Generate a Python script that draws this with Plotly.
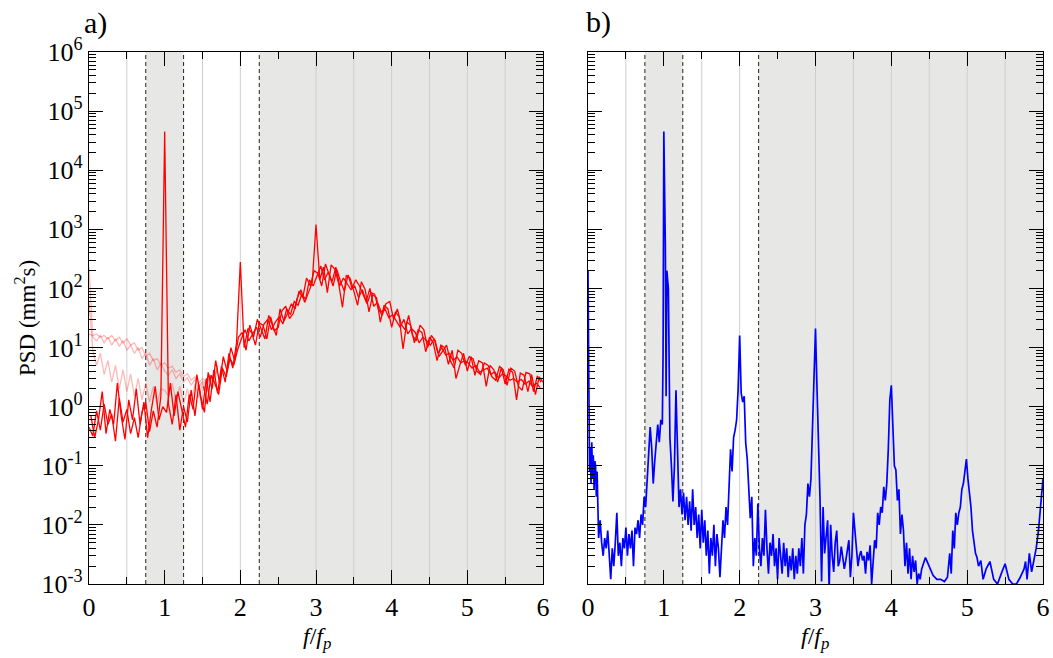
import plotly.graph_objects as go

# ---------------- data ----------------
f_red_a = [0.00, 0.05, 0.10, 0.15, 0.20, 0.25, 0.30, 0.35, 0.40, 0.45,
           0.50, 0.55, 0.60, 0.65, 0.70, 0.75, 0.80, 0.85, 0.90, 0.95,
           1.00, 1.05, 1.10, 1.15, 1.20, 1.25, 1.30, 1.35, 1.40, 1.45,
           1.50, 1.55, 1.60, 1.65, 1.70, 1.75, 1.80, 1.85, 1.90, 1.95,
           2.00, 2.05, 2.10, 2.15, 2.20, 2.25, 2.30, 2.35, 2.40, 2.45,
           2.50, 2.55, 2.60, 2.65, 2.70, 2.75, 2.80, 2.85, 2.90, 2.95,
           3.00, 3.05, 3.10, 3.15, 3.20, 3.25, 3.30, 3.35, 3.40, 3.45,
           3.50, 3.55, 3.60, 3.65, 3.70, 3.75, 3.80, 3.85, 3.90, 3.95,
           4.00, 4.05, 4.10, 4.15, 4.20, 4.25, 4.30, 4.35, 4.40, 4.45,
           4.50, 4.55, 4.60, 4.65, 4.70, 4.75, 4.80, 4.85, 4.90, 4.95,
           5.00, 5.05, 5.10, 5.15, 5.20, 5.25, 5.30, 5.35, 5.40, 5.45,
           5.50, 5.55, 5.60, 5.65, 5.70, 5.75, 5.80, 5.85, 5.90, 5.95,
           6.00]
psd_red_a = [0.45, 0.32, 0.85, 0.4, 1.1, 0.5, 0.75, 0.26, 1.4, 0.55,
             0.9, 0.35, 0.65, 0.3, 0.8, 1.2, 0.38, 0.85, 0.45, 1.5,
             45000, 1.1, 0.5, 1.6, 0.4, 1.0, 0.55, 1.9, 0.7, 2.4,
             0.9, 3.0, 1.2, 4.2, 1.7, 4.8, 2.6, 8.0, 4.5, 12,
             280, 10, 21, 18, 11, 26, 24, 14, 33, 19,
             22, 42, 50, 31, 38, 68, 95, 58, 85, 125,
             1200, 140, 230, 85, 250, 210, 120, 48, 165, 150,
             90, 52, 130, 95, 40, 78, 70, 27, 52, 45,
             22, 40, 33, 9.5, 27, 24, 12, 20, 18, 8.5,
             15, 12, 6, 11, 10, 5.2, 9, 3.0, 5, 8,
             4, 7, 3.4, 6, 5.5, 2.2, 5, 4.2, 2.6, 4.6,
             2.4, 4.3, 3.8, 1.3, 3.7, 3.4, 1.8, 3.5, 1.6, 3.2,
             2.6]

f_red_b = [0.025, 0.075, 0.125, 0.175, 0.225, 0.275, 0.325, 0.375, 0.425, 0.475,
           0.525, 0.575, 0.625, 0.675, 0.725, 0.775, 0.825, 0.875, 0.925, 0.975,
           1.025, 1.075, 1.125, 1.175, 1.225, 1.275, 1.325, 1.375, 1.425, 1.475,
           1.525, 1.575, 1.625, 1.675, 1.725, 1.775, 1.825, 1.875, 1.925, 1.975,
           2.025, 2.075, 2.125, 2.175, 2.225, 2.275, 2.325, 2.375, 2.425, 2.475,
           2.525, 2.575, 2.625, 2.675, 2.725, 2.775, 2.825, 2.875, 2.925, 2.975,
           3.025, 3.075, 3.125, 3.175, 3.225, 3.275, 3.325, 3.375, 3.425, 3.475,
           3.525, 3.575, 3.625, 3.675, 3.725, 3.775, 3.825, 3.875, 3.925, 3.975,
           4.025, 4.075, 4.125, 4.175, 4.225, 4.275, 4.325, 4.375, 4.425, 4.475,
           4.525, 4.575, 4.625, 4.675, 4.725, 4.775, 4.825, 4.875, 4.925, 4.975,
           5.025, 5.075, 5.125, 5.175, 5.225, 5.275, 5.325, 5.375, 5.425, 5.475,
           5.525, 5.575, 5.625, 5.675, 5.725, 5.775, 5.825, 5.875, 5.925, 5.975]
psd_red_b = [0.7, 0.3, 0.6, 1.8, 0.35, 0.9, 0.5, 2.5, 0.7, 0.28,
             1.3, 0.6, 2.0, 0.5, 1.2, 0.3, 0.9, 2.2, 0.6, 1.0,
             0.8, 2.5, 0.7, 1.8, 0.9, 0.45, 1.6, 0.9, 3.5, 1.5,
             0.8, 3.8, 2.0, 6, 2.5, 7, 4, 10, 6, 15,
             18, 9, 24, 15, 30, 20, 14, 35, 24, 16,
             45, 28, 38, 55, 45, 90, 70, 150, 110, 200,
             180, 110, 260, 170, 110, 210, 130, 90, 170, 100,
             140, 110, 75, 55, 85, 80, 45, 35, 55, 60,
             30, 45, 25, 20, 35, 16, 13, 24, 20, 10,
             16, 13, 7, 9, 11, 6, 4.5, 9, 8, 5,
             7, 6.5, 4, 3.5, 5.5, 5, 3.2, 2.8, 4.8, 4.2,
             2.3, 4.5, 4, 2.2, 1.9, 3.8, 3.6, 1.8, 3.3, 2.6]

f_red_c = [1.5125, 1.5625, 1.6125, 1.6625, 1.7125, 1.7625, 1.8125, 1.8625, 1.9125, 1.9625,
           2.0125, 2.0625, 2.1125, 2.1625, 2.2125, 2.2625, 2.3125, 2.3625, 2.4125, 2.4625,
           2.5125, 2.5625, 2.6125, 2.6625, 2.7125, 2.7625, 2.8125, 2.8625, 2.9125, 2.9625,
           3.0125, 3.0625, 3.1125, 3.1625, 3.2125, 3.2625, 3.3125, 3.3625, 3.4125, 3.4625,
           3.5125, 3.5625, 3.6125, 3.6625, 3.7125, 3.7625, 3.8125, 3.8625, 3.9125, 3.9625,
           4.0125, 4.0625, 4.1125, 4.1625, 4.2125, 4.2625, 4.3125, 4.3625, 4.4125, 4.4625,
           4.5125, 4.5625, 4.6125, 4.6625, 4.7125, 4.7625, 4.8125, 4.8625, 4.9125, 4.9625,
           5.0125, 5.0625, 5.1125, 5.1625, 5.2125, 5.2625, 5.3125, 5.3625, 5.4125, 5.4625,
           5.5125, 5.5625, 5.6125, 5.6625, 5.7125, 5.7625, 5.8125, 5.8625, 5.9125, 5.9625]
psd_red_c = [2.2, 1.1, 3.4, 2.5, 1.6, 4.5, 3.2, 6.5, 5, 9,
             14, 20, 13, 17, 22, 15, 25, 30, 20, 27,
             33, 25, 45, 36, 60, 52, 80, 65, 140, 110,
             160, 240, 140, 190, 130, 230, 110, 150, 120, 95,
             110, 70, 95, 60, 100, 50, 58, 40, 45, 32,
             36, 28, 22, 30, 17, 21, 18, 12, 15, 13,
             11, 14, 8, 10, 7.5, 8, 6, 7, 5.5, 6,
             5.5, 4.5, 5, 3.8, 4.2, 4.5, 3.5, 3.9, 3, 3.6,
             3.3, 2.8, 3.0, 2.6, 2.9, 2.4, 2.7, 2.2, 2.5, 2.1]

f_pink = [0.00, 0.05, 0.10, 0.15, 0.20, 0.25, 0.30, 0.35, 0.40, 0.45,
          0.50, 0.55, 0.60, 0.65, 0.70, 0.75, 0.80, 0.85, 0.90, 0.95,
          1.00, 1.05, 1.10, 1.15, 1.20, 1.25, 1.30, 1.35, 1.40, 1.45,
          1.50, 1.55, 1.60, 1.65, 1.70]
psd_pink_a = [230, 15, 13, 16, 12, 15, 11, 14, 10.5, 13,
              9, 11, 8, 10, 6.5, 8, 5, 6.5, 4.2, 5.5,
              4, 3.4, 4.2, 3, 3.6, 2.6, 3.1, 2.3, 2.9, 2.1,
              2.7, 2.4, 3.2, 3.0, 4.5]
psd_pink_b = [60, 9, 5, 8, 3.5, 6, 2.6, 5, 2, 4.2,
              1.8, 3.6, 1.5, 3, 1.3, 2.5, 1.2, 2.2, 1.1, 2.0,
              1.9, 1.5, 2.5, 1.2, 2.2, 1.1, 2.0, 1.2, 2.4, 1.4,
              2.6, 1.8, 3.4, 2.2, 5]
psd_pink_c = [17, 16, 17, 15, 16, 14, 16, 13, 15, 12,
              14, 11, 12, 9, 10, 7, 8, 6, 6.5, 5,
              5.5, 4.5, 4.8, 3.8, 4.2, 3.2, 3.6, 2.8, 3.2, 2.5,
              3.0, 2.6, 3.4, 3.2, 4.8]

f_blue = [0.00, 0.01, 0.02, 0.03, 0.04, 0.05, 0.06, 0.07, 0.08, 0.09,
          0.10, 0.11, 0.12, 0.14, 0.16, 0.18, 0.20, 0.22, 0.24, 0.26,
          0.28, 0.30, 0.32, 0.34, 0.36, 0.38, 0.40, 0.42, 0.44, 0.46,
          0.48, 0.50, 0.52, 0.54, 0.56, 0.58, 0.60, 0.62, 0.64, 0.66,
          0.68, 0.70, 0.72, 0.74, 0.76, 0.78, 0.80, 0.82, 0.84, 0.86,
          0.88, 0.90, 0.92, 0.94, 0.96, 0.98, 0.99, 1.00, 1.02, 1.03,
          1.04, 1.06, 1.08, 1.10, 1.12, 1.14, 1.16, 1.18, 1.20, 1.22,
          1.24, 1.26, 1.28, 1.30, 1.32, 1.34, 1.36, 1.38, 1.40, 1.42,
          1.44, 1.46, 1.48, 1.50, 1.52, 1.54, 1.56, 1.58, 1.60, 1.62,
          1.64, 1.66, 1.68, 1.70, 1.72, 1.74, 1.76, 1.78, 1.80, 1.82,
          1.84, 1.86, 1.88, 1.90, 1.92, 1.94, 1.96, 1.98, 2.00, 2.02,
          2.04, 2.06, 2.08, 2.10, 2.12, 2.14, 2.16, 2.18, 2.20, 2.22,
          2.24, 2.26, 2.28, 2.30, 2.32, 2.34, 2.36, 2.38, 2.40, 2.42,
          2.44, 2.46, 2.48, 2.50, 2.52, 2.54, 2.56, 2.58, 2.60, 2.62,
          2.64, 2.66, 2.68, 2.70, 2.72, 2.74, 2.76, 2.78, 2.80, 2.82,
          2.84, 2.86, 2.88, 2.90, 2.92, 2.94, 2.96, 2.98, 3.00, 3.02,
          3.04, 3.06, 3.08, 3.10, 3.12, 3.14, 3.16, 3.18, 3.20, 3.22,
          3.24, 3.26, 3.28, 3.30, 3.32, 3.34, 3.36, 3.38, 3.40, 3.42,
          3.44, 3.46, 3.48, 3.50, 3.52, 3.54, 3.56, 3.58, 3.60, 3.62,
          3.64, 3.66, 3.68, 3.70, 3.72, 3.74, 3.76, 3.78, 3.80, 3.82,
          3.84, 3.86, 3.88, 3.90, 3.92, 3.94, 3.96, 3.98, 4.00, 4.02,
          4.04, 4.06, 4.08, 4.10, 4.12, 4.14, 4.16, 4.18, 4.20, 4.22,
          4.24, 4.26, 4.28, 4.30, 4.32, 4.34, 4.36, 4.38, 4.40, 4.45,
          4.50, 4.55, 4.60, 4.65, 4.70, 4.74, 4.77, 4.79, 4.81, 4.83,
          4.85, 4.87, 4.89, 4.91, 4.93, 4.95, 4.97, 4.99, 5.01, 5.03,
          5.05, 5.07, 5.09, 5.11, 5.13, 5.15, 5.18, 5.21, 5.25, 5.30,
          5.35, 5.40, 5.45, 5.50, 5.55, 5.60, 5.65, 5.70, 5.75, 5.77,
          5.79, 5.82, 5.85, 5.88, 5.91, 5.94, 5.97, 6.00]
psd_blue = [200, 0.5, 0.08, 0.2, 0.05, 0.25, 0.06, 0.15, 0.04, 0.12,
            0.1, 0.03, 0.08, 0.006, 0.012, 0.005, 0.003, 0.006, 0.004, 0.008,
            0.003, 0.0012, 0.004, 0.002, 0.005, 0.016, 0.003, 0.005, 0.002, 0.006,
            0.004, 0.009, 0.003, 0.007, 0.004, 0.008, 0.002, 0.009, 0.007, 0.012,
            0.006, 0.015, 0.01, 0.03, 0.02, 0.06, 0.15, 0.45, 0.2, 0.05,
            0.12, 0.3, 0.5, 0.25, 0.6, 0.5, 8, 45000, 500, 1.5,
            200, 100, 0.3, 0.1, 0.025, 0.1, 1.9, 0.2, 0.02, 0.04,
            0.015, 0.035, 0.012, 0.03, 0.01, 0.025, 0.008, 0.04, 0.01, 0.02,
            0.006, 0.015, 0.004, 0.018, 0.005, 0.012, 0.003, 0.008, 0.0015, 0.006,
            0.003, 0.01, 0.002, 0.007, 0.004, 0.0013, 0.005, 0.012, 0.006, 0.02,
            0.01, 0.06, 0.19, 0.08, 0.3, 0.4, 0.6, 2, 16, 1.7,
            1.2, 1.5, 0.24, 0.13, 0.04, 0.013, 0.03, 0.002, 0.006, 0.003,
            0.023, 0.004, 0.002, 0.006, 0.003, 0.018, 0.004, 0.0015, 0.005, 0.003,
            0.007, 0.002, 0.004, 0.0012, 0.006, 0.003, 0.0015, 0.005, 0.002, 0.004,
            0.0013, 0.003, 0.0017, 0.004, 0.0012, 0.003, 0.0015, 0.004, 0.002, 0.006,
            0.0015, 0.01, 0.015, 0.05, 0.03, 0.06, 0.4, 3, 21, 2,
            0.3, 0.026, 0.0011, 0.02, 0.0033, 0.006, 0.012, 0.0008, 0.01, 0.003,
            0.0016, 0.005, 0.008, 0.002, 0.0025, 0.0043, 0.003, 0.0018, 0.0025, 0.004,
            0.0055, 0.0013, 0.003, 0.016, 0.008, 0.0035, 0.002, 0.003, 0.0036, 0.0025,
            0.003, 0.0015, 0.0035, 0.0025, 0.0045, 0.001, 0.003, 0.0055, 0.004, 0.016,
            0.01, 0.02, 0.016, 0.044, 0.026, 0.05, 0.19, 1.3, 2.3, 0.5,
            0.1, 0.085, 0.026, 0.04, 0.007, 0.015, 0.008, 0.002, 0.005, 0.0015,
            0.004, 0.0012, 0.003, 0.0016, 0.0025, 0.001, 0.0015, 0.0012, 0.0018, 0.0028,
            0.002, 0.0014, 0.0012, 0.0012, 0.0011, 0.0013, 0.0033, 0.0015, 0.008, 0.004,
            0.016, 0.01, 0.016, 0.02, 0.04, 0.05, 0.08, 0.13, 0.06, 0.035,
            0.02, 0.008, 0.005, 0.0033, 0.0028, 0.002, 0.0025, 0.0012, 0.0018, 0.0024,
            0.0012, 0.001, 0.0015, 0.0022, 0.0012, 0.001, 0.001, 0.0013, 0.0018, 0.0024,
            0.0012, 0.0033, 0.0016, 0.0024, 0.004, 0.008, 0.02, 0.06]

x_tick_vals = [0, 1, 2, 3, 4, 5, 6]
y_tick_vals = [1e-3, 1e-2, 1e-1, 1e0, 1e1, 1e2, 1e3, 1e4, 1e5, 1e6]
y_tick_text = ["10<sup>-3</sup>", "10<sup>-2</sup>", "10<sup>-1</sup>", "10<sup>0</sup>",
               "10<sup>1</sup>", "10<sup>2</sup>", "10<sup>3</sup>", "10<sup>4</sup>",
               "10<sup>5</sup>", "10<sup>6</sup>"]
y_minor_vals = [m * 10.0 ** e for e in range(-3, 6) for m in range(2, 10)]

# regions of the frequency axis (f/fp)
shade_bands = [(0.75, 1.25), (2.25, 6.0)]
dashed_lines = [0.75, 1.25, 2.25]
thin_lines = [0.5, 1.5, 2.0, 3.0, 3.5, 4.0, 4.5, 5.0, 5.5]

# ---------------- figure ----------------
FONT = "Liberation Serif"
fig = go.Figure()

pink_col = "rgba(255,40,40,0.33)"
for ys in (psd_pink_c, psd_pink_a, psd_pink_b):
    fig.add_trace(go.Scatter(x=f_pink, y=ys, mode="lines", line=dict(color=pink_col, width=1.3),
                             xaxis="x", yaxis="y", showlegend=False))
for xs, ys in ((f_red_c, psd_red_c), (f_red_b, psd_red_b), (f_red_a, psd_red_a)):
    fig.add_trace(go.Scatter(x=xs, y=ys, mode="lines", line=dict(color="#ff0000", width=1.3),
                             xaxis="x", yaxis="y", showlegend=False))
fig.add_trace(go.Scatter(x=f_blue, y=psd_blue, mode="lines", line=dict(color="#0000ff", width=1.7),
                         xaxis="x2", yaxis="y2", showlegend=False))

shapes = []
for xa, ya in (("x", "y"), ("x2", "y2")):
    for a, b in shade_bands:
        shapes.append(dict(type="rect", xref=xa, yref=ya + " domain", x0=a, x1=b, y0=0, y1=1,
                           fillcolor="#e7e7e5", line=dict(width=0), layer="below"))
    for v in thin_lines:
        shapes.append(dict(type="line", xref=xa, yref=ya + " domain", x0=v, x1=v, y0=0, y1=1,
                           line=dict(color="#cfcfcf", width=1), layer="below"))
    for v in dashed_lines:
        shapes.append(dict(type="line", xref=xa, yref=ya + " domain", x0=v, x1=v, y0=0, y1=1,
                           line=dict(color="#222222", width=1, dash="4px,3px"), layer="below"))

xdom1 = [89 / 1053, 543 / 1053]
xdom2 = [588 / 1053, 1043 / 1053]
ydom = [1 - 584 / 658, 1 - 52 / 658]

def xaxis_cfg(dom, anchor):
    return dict(domain=dom, anchor=anchor, range=[0, 6], tickmode="array", tickvals=x_tick_vals,
                ticks="inside", ticklen=14, tickwidth=1, tickcolor="black",
                minor=dict(tickmode="linear", tick0=0, dtick=0.5, ticks="inside", ticklen=7,
                           tickwidth=1, tickcolor="black"),
                showline=True, linecolor="black", linewidth=1.2, mirror="ticks",
                showgrid=False, zeroline=False, automargin=False,
                tickfont=dict(family=FONT, size=26, color="black"))

def yaxis_cfg(anchor, labels):
    return dict(domain=ydom, anchor=anchor, type="log", range=[-3, 6], tickmode="array",
                tickvals=y_tick_vals, ticktext=y_tick_text, showticklabels=labels,
                ticks="inside", ticklen=14, tickwidth=1, tickcolor="black",
                minor=dict(tickmode="array", tickvals=y_minor_vals, ticks="inside", ticklen=7,
                           tickwidth=1, tickcolor="black"),
                showline=True, linecolor="black", linewidth=1.2, mirror="ticks",
                showgrid=False, zeroline=False, automargin=False,
                tickfont=dict(family=FONT, size=26, color="black"))

def note(text, x, y, size, angle=0, italic=False):
    return dict(text=text, x=x / 1053, y=1 - y / 658, xref="paper", yref="paper", showarrow=False,
                xanchor="center", yanchor="middle", textangle=angle,
                font=dict(family=FONT, size=size, color="black"))

xlabel = "<i>f</i>/<i>f</i><sub><i>p</i></sub>"
annotations = [
    note("a)", 95, 23, 30),
    note("b)", 598, 22, 30),
    note("PSD (mm<sup>2</sup>s)", 25, 318, 23, angle=-90),
    note(xlabel, 317, 638, 24),
    note(xlabel, 815, 638, 24),
]

fig.update_layout(
    width=1053, height=658, autosize=False,
    margin=dict(l=0, r=0, t=0, b=0, autoexpand=False),
    paper_bgcolor="white", plot_bgcolor="white",
    xaxis=xaxis_cfg(xdom1, "y"), yaxis=yaxis_cfg("x", True),
    xaxis2=xaxis_cfg(xdom2, "y2"), yaxis2=yaxis_cfg("x2", False),
    shapes=shapes, annotations=annotations, showlegend=False,
)

fig.write_html("out.html")
